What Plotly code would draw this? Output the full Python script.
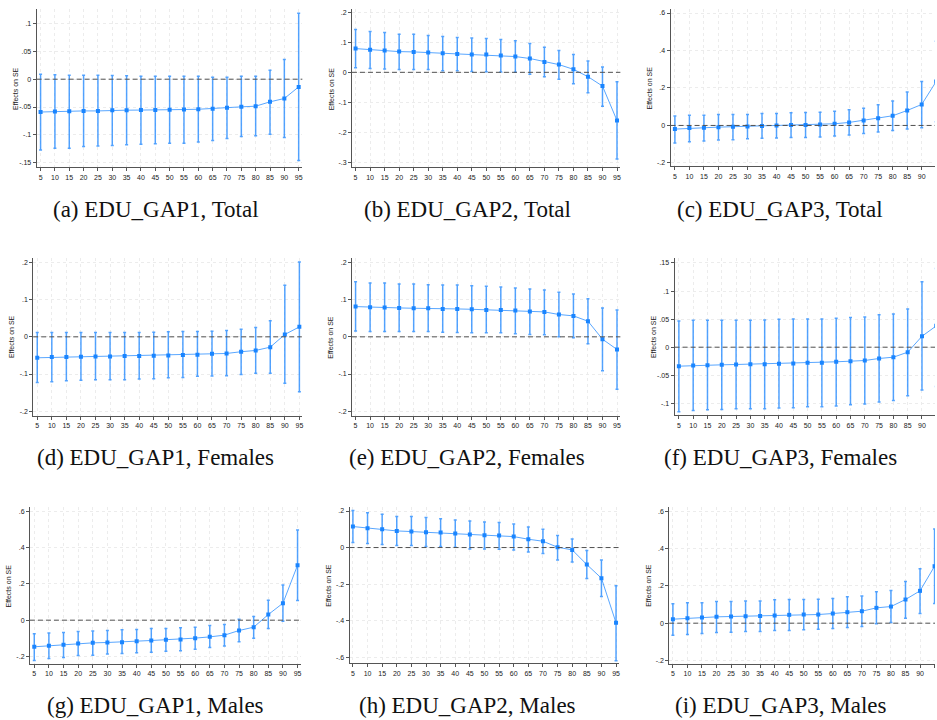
import numpy as np
import plotly.graph_objects as go

W, H = 937, 720

quantiles = [5, 10, 15, 20, 25, 30, 35, 40, 45, 50, 55, 60, 65, 70, 75, 80, 85, 90, 95]

# ---- (a) EDU_GAP1, Total
est_a = [-0.059, -0.058, -0.0575, -0.057, -0.057, -0.056, -0.0557, -0.0555, -0.0555, -0.055, -0.0545, -0.054, -0.053, -0.0515, -0.0497, -0.0485, -0.0407, -0.0347, -0.0138]
hi_a = [0.009, 0.008, 0.007, 0.007, 0.007, 0.0066, 0.006, 0.0054, 0.0054, 0.0054, 0.0054, 0.0054, 0.0036, 0.0036, 0.0054, 0.0054, 0.016, 0.0353, 0.1186]
lo_a = [-0.1275, -0.124, -0.124, -0.121, -0.120, -0.119, -0.118, -0.1168, -0.116, -0.115, -0.115, -0.113, -0.110, -0.1066, -0.103, -0.1018, -0.0988, -0.1048, -0.146]
# ---- (b) EDU_GAP2, Total
est_b = [0.079, 0.075, 0.0725, 0.069, 0.068, 0.066, 0.0636, 0.061, 0.059, 0.059, 0.056, 0.0525, 0.046, 0.0346, 0.0257, 0.010, -0.0145, -0.0458, -0.1607]
hi_b = [0.143, 0.136, 0.133, 0.127, 0.127, 0.123, 0.119, 0.116, 0.114, 0.113, 0.109, 0.105, 0.096, 0.0837, 0.0725, 0.059, 0.038, 0.018, -0.031]
lo_b = [0.0156, 0.013, 0.011, 0.009, 0.009, 0.009, 0.0056, 0.0056, 0.003, 0.002, 0.001, 0.0, -0.0067, -0.0145, -0.0234, -0.038, -0.068, -0.1127, -0.289]
# ---- (c) EDU_GAP3, Total
est_c = [-0.0196, -0.014, -0.0124, -0.009, -0.007, -0.0053, -0.0036, 0.0, 0.0018, 0.0018, 0.0053, 0.009, 0.016, 0.0267, 0.039, 0.0516, 0.08, 0.112, 0.235]
hi_c = [0.05, 0.055, 0.055, 0.059, 0.059, 0.059, 0.064, 0.064, 0.0676, 0.069, 0.071, 0.076, 0.0836, 0.092, 0.11, 0.13, 0.178, 0.235, 0.45]
lo_c = [-0.094, -0.087, -0.0836, -0.078, -0.076, -0.071, -0.069, -0.0676, -0.064, -0.064, -0.062, -0.057, -0.0516, -0.0427, -0.0356, -0.0267, -0.0196, -0.0124, 0.02]
# ---- (d) EDU_GAP1, Females
est_d = [-0.0563, -0.0545, -0.0545, -0.0536, -0.0527, -0.0527, -0.0518, -0.0518, -0.051, -0.05, -0.049, -0.048, -0.0456, -0.0447, -0.040, -0.0366, -0.0277, 0.0063, 0.0268]
hi_d = [0.0116, 0.0116, 0.0116, 0.0116, 0.0116, 0.0116, 0.0116, 0.0116, 0.0125, 0.0134, 0.0143, 0.0143, 0.015, 0.017, 0.0206, 0.025, 0.043, 0.1385, 0.201]
lo_d = [-0.123, -0.1206, -0.118, -0.117, -0.1153, -0.1153, -0.1153, -0.1135, -0.1126, -0.11, -0.109, -0.106, -0.1055, -0.1046, -0.101, -0.098, -0.098, -0.125, -0.1475]
# ---- (e) EDU_GAP2, Females
est_e = [0.0813, 0.0795, 0.0786, 0.0777, 0.0768, 0.0768, 0.075, 0.075, 0.074, 0.0724, 0.0724, 0.0706, 0.068, 0.067, 0.06, 0.0563, 0.042, -0.0063, -0.034]
hi_e = [0.148, 0.1447, 0.1447, 0.142, 0.142, 0.140, 0.139, 0.139, 0.137, 0.136, 0.134, 0.1314, 0.1287, 0.126, 0.12, 0.1153, 0.102, 0.0778, 0.0724]
lo_e = [0.016, 0.0143, 0.0143, 0.0143, 0.0143, 0.0143, 0.0125, 0.0116, 0.0107, 0.0107, 0.0107, 0.008, 0.0063, 0.0054, 0.0, -0.0027, -0.0188, -0.091, -0.141]
# ---- (f) EDU_GAP3, Females
est_f = [-0.0338, -0.0326, -0.032, -0.0314, -0.0308, -0.0302, -0.0302, -0.0296, -0.029, -0.0278, -0.0278, -0.026, -0.0249, -0.0237, -0.0201, -0.0178, -0.0089, 0.0195, 0.038]
hi_f = [0.0468, 0.048, 0.048, 0.048, 0.048, 0.048, 0.0486, 0.0498, 0.0504, 0.0504, 0.0504, 0.0515, 0.0527, 0.054, 0.058, 0.059, 0.068, 0.1167, 0.14]
lo_f = [-0.115, -0.1126, -0.1114, -0.111, -0.1096, -0.1096, -0.1096, -0.1084, -0.1078, -0.106, -0.106, -0.1049, -0.1025, -0.1013, -0.0977, -0.0948, -0.0865, -0.0764, -0.07]
# ---- (g) EDU_GAP1, Males
est_g = [-0.1468, -0.141, -0.136, -0.128, -0.125, -0.123, -0.121, -0.1156, -0.112, -0.108, -0.106, -0.099, -0.092, -0.0826, -0.057, -0.0385, 0.031, 0.0936, 0.303]
hi_g = [-0.075, -0.07, -0.068, -0.062, -0.059, -0.057, -0.053, -0.051, -0.046, -0.046, -0.042, -0.0385, -0.029, -0.0239, 0.0055, 0.02, 0.11, 0.1945, 0.497]
lo_g = [-0.222, -0.211, -0.2055, -0.1945, -0.193, -0.187, -0.183, -0.18, -0.1765, -0.1706, -0.169, -0.16, -0.15, -0.143, -0.119, -0.099, -0.046, -0.0055, 0.108]
# ---- (h) EDU_GAP2, Males
est_h = [0.115, 0.1057, 0.1003, 0.091, 0.0875, 0.0839, 0.082, 0.0766, 0.071, 0.0675, 0.0656, 0.06, 0.0456, 0.0346, 0.0018, -0.0128, -0.093, -0.1677, -0.412]
hi_h = [0.2024, 0.19, 0.182, 0.1696, 0.1696, 0.164, 0.157, 0.151, 0.146, 0.14, 0.137, 0.1295, 0.113, 0.1, 0.0656, 0.0474, -0.0164, -0.0675, -0.2097]
lo_h = [0.0273, 0.022, 0.0164, 0.011, 0.011, 0.0055, 0.0055, 0.002, -0.0073, -0.0073, -0.009, -0.0128, -0.0237, -0.0328, -0.0675, -0.0784, -0.1696, -0.268, -0.62]
# ---- (i) EDU_GAP3, Males
est_i = [0.0214, 0.0267, 0.0303, 0.0339, 0.0357, 0.0374, 0.039, 0.041, 0.0446, 0.0463, 0.0463, 0.0517, 0.0588, 0.064, 0.082, 0.089, 0.1266, 0.173, 0.305]
hi_i = [0.1034, 0.109, 0.109, 0.116, 0.116, 0.119, 0.119, 0.125, 0.1266, 0.1266, 0.128, 0.132, 0.141, 0.146, 0.1676, 0.1747, 0.2228, 0.292, 0.504]
lo_i = [-0.064, -0.0606, -0.0553, -0.05, -0.048, -0.0446, -0.0446, -0.039, -0.039, -0.0357, -0.032, -0.0285, -0.0232, -0.0178, -0.0036, 0.0036, 0.0267, 0.0517, 0.105]

captions = ["(a) EDU_GAP1, Total", "(b) EDU_GAP2, Total", "(c) EDU_GAP3, Total",
            "(d) EDU_GAP1, Females", "(e) EDU_GAP2, Females", "(f) EDU_GAP3, Females",
            "(g) EDU_GAP1, Males", "(h) EDU_GAP2, Males", "(i) EDU_GAP3, Males"]

y_ticks = [[0.1, 0.05, 0, -0.05, -0.1, -0.15],
           [0.2, 0.1, 0, -0.1, -0.2, -0.3],
           [0.6, 0.4, 0.2, 0, -0.2],
           [0.2, 0.1, 0, -0.1, -0.2],
           [0.2, 0.1, 0, -0.1, -0.2],
           [0.15, 0.1, 0.05, 0, -0.05, -0.1],
           [0.6, 0.4, 0.2, 0, -0.2],
           [0.2, 0, -0.2, -0.4, -0.6],
           [0.6, 0.4, 0.2, 0, -0.2]]

panels = [(est_a, hi_a, lo_a), (est_b, hi_b, lo_b), (est_c, hi_c, lo_c),
          (est_d, hi_d, lo_d), (est_e, hi_e, lo_e), (est_f, hi_f, lo_f),
          (est_g, hi_g, lo_g), (est_h, hi_h, lo_h), (est_i, hi_i, lo_i)]

# layout: plot boxes in pixels (left, right, top, bottom)
boxes = [(36.7, 303, 8.3, 166.7), (352.7, 621.7, 8.3, 166.7), (672, 937, 8.3, 165.7),
         (33.3, 302.5, 257.3, 415.3), (352.7, 621.7, 257.3, 415.3), (676, 937, 257.3, 414.7),
         (30, 302, 506.7, 664), (350.3, 620, 506.7, 663.3), (670.7, 937, 506.7, 664)]
x_ranges = [[3.62, 96.28], [3.75, 96.16], [3.51, 94.58],
            [3.62, 95.85], [3.75, 96.16], [3.49, 94.55],
            [3.52, 96.3], [3.85, 95.9], [3.75, 95.15]]
y_ranges = [[-0.1587, 0.1257], [-0.317, 0.21], [-0.219, 0.62],
            [-0.212, 0.212], [-0.212, 0.212], [-0.121, 0.159],
            [-0.242, 0.624], [-0.634, 0.222], [-0.219, 0.622]]
caption_pos = [(156, 209), (468, 209), (782, 209),
               (156, 457), (468, 457), (782, 457),
               (156, 705), (468, 705), (782, 705)]

BLUE = "#1a85ff"
AXC = "#555555"
TICKFONT = dict(family="Liberation Sans, Arial, sans-serif", size=7, color="#222222")


def stata_fmt(v):
    if v == 0:
        return "0"
    s = f"{v:g}"
    s = s.replace("-0.", "-.")
    if s.startswith("0."):
        s = s[1:]
    return s


fig = go.Figure()
layout = dict(width=W, height=H, margin=dict(l=0, r=0, t=0, b=0),
              paper_bgcolor="white", plot_bgcolor="white", showlegend=False)
shapes = []
annotations = []

for i, (est, hi, lo) in enumerate(panels):
    n = i + 1
    xs = "" if n == 1 else str(n)
    est_arr = np.array(est)
    hi_arr = np.array(hi)
    lo_arr = np.array(lo)
    fig.add_trace(go.Scatter(
        x=quantiles, y=est, mode="lines+markers",
        xaxis="x" + xs, yaxis="y" + xs,
        line=dict(color="rgba(60,150,255,0.85)", width=1),
        marker=dict(symbol="square", size=4, color=BLUE),
        error_y=dict(type="data", symmetric=False,
                     array=hi_arr - est_arr, arrayminus=est_arr - lo_arr,
                     color="rgba(40,140,255,0.8)", thickness=1.5, width=1.5),
    ))
    l, r, t, b = boxes[i]
    layout["xaxis" + xs] = dict(
        domain=[l / W, min(r / W, 1.0)], anchor="y" + xs, range=x_ranges[i],
        tickvals=quantiles, ticktext=[str(q) for q in quantiles],
        ticks="outside", ticklen=3, tickcolor=AXC, tickwidth=1,
        showline=True, linecolor=AXC, linewidth=1,
        showgrid=True, gridcolor="#ececec", griddash="3px,3px", gridwidth=1,
        zeroline=False, tickfont=TICKFONT, tickangle=0,
    )
    layout["yaxis" + xs] = dict(
        domain=[1 - b / H, 1 - t / H], anchor="x" + xs, range=y_ranges[i],
        tickvals=y_ticks[i], ticktext=[stata_fmt(v) for v in y_ticks[i]],
        ticks="outside", ticklen=3, tickcolor=AXC, tickwidth=1,
        showline=True, linecolor=AXC, linewidth=1,
        showgrid=True, gridcolor="#ececec", griddash="3px,3px", gridwidth=1,
        zeroline=False, tickfont=TICKFONT,
    )
    shapes.append(dict(type="line", xref="x" + xs + " domain", yref="y" + xs,
                       x0=0, x1=1, y0=0, y1=0,
                       line=dict(color="#505050", width=1, dash="5px,3px"), layer="above"))
    annotations.append(dict(text="Effects on SE", xref="x" + xs + " domain", yref="y" + xs + " domain",
                            x=0, y=0.5, xanchor="center", yanchor="middle", xshift=-21,
                            textangle=-90, showarrow=False,
                            font=dict(family="Liberation Sans, Arial, sans-serif", size=7, color="#222222")))
    cx, cy = caption_pos[i]
    annotations.append(dict(text=captions[i], xref="paper", yref="paper",
                            x=cx / W, y=1 - cy / H, xanchor="center", yanchor="middle",
                            showarrow=False,
                            font=dict(family="Liberation Serif, Times New Roman, serif", size=23, color="#111111")))

layout["shapes"] = shapes
layout["annotations"] = annotations
fig.update_layout(**layout)
fig.write_html("out.html")
